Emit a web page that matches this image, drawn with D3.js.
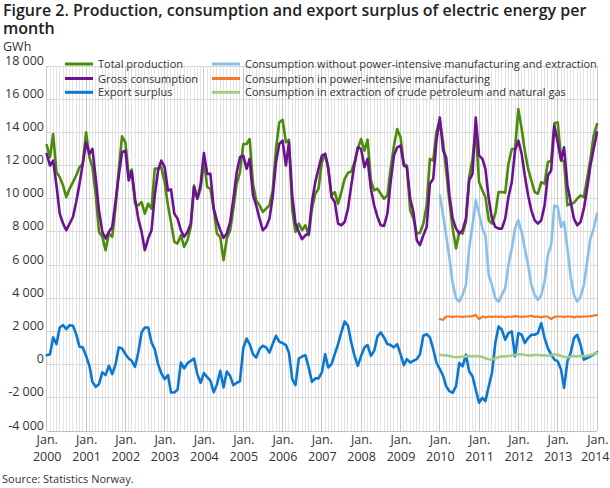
<!DOCTYPE html>
<html><head><meta charset="utf-8">
<script src="https://cdn.jsdelivr.net/npm/d3@7"></script>
<style>body{margin:0;background:#fff;} svg text{font-family:"Open Sans",sans-serif;}</style>
</head><body><svg id="c" width="610" height="488"></svg>
<script>
const startYear = 2000;
const yearLabels = ["2000","2001","2002","2003","2004","2005","2006","2007","2008","2009","2010","2011","2012","2013","2014"];
const yTicks = [-4000,-2000,0,2000,4000,6000,8000,10000,12000,14000,16000,18000];

const totalProduction = [
13240,12500,13900,11600,11300,10800,10100,10600,11000,11400,11900,12100,
14000,12500,11900,10200,8000,7700,6900,7900,7700,9400,11800,13760,
13400,11400,11760,9700,9600,9800,9100,9700,9400,11800,11840,11900,
11000,9600,8600,7400,7300,7800,7100,7500,8300,10800,10000,10600,
12300,10700,10600,9400,7900,7700,6300,7600,8100,9400,10900,11600,
13300,13300,13600,10900,9900,9600,9200,9400,9600,10500,13000,14600,
14760,13400,13560,9300,8000,8500,8100,8400,7800,9400,10300,10600,
12200,12700,11800,10200,10400,9700,10400,11200,11560,11640,12200,13000,
13600,12900,13560,11100,10500,10600,10300,10000,10200,11800,13200,14200,
13700,12100,12000,9300,8800,7900,7950,8500,9600,12400,12300,14040,
14700,13400,11700,9800,8200,7000,8000,7900,8600,11300,12400,14100,
11000,10500,10100,8700,8500,9100,10400,10400,10360,12100,13000,13000,
15400,14200,12900,11800,11100,10400,10300,11000,10900,12200,12300,14560,
14600,12400,12200,9600,9700,9760,10000,10200,10100,11200,12400,13800,
14500];

const grossConsumption = [
12700,12000,12300,10800,9100,8500,8100,8500,8900,9800,10900,12100,
13400,12700,13000,11200,9300,8000,7600,8000,8300,9800,11400,12800,
12900,11100,11640,10000,8800,8000,6900,7600,8100,10200,11700,12300,
11900,10500,10560,9100,8800,8100,7700,8000,8500,10700,10000,10840,
12760,11500,11500,9400,8700,8100,7640,7900,8600,10000,11600,12500,
12600,11800,12400,10200,9600,8800,8100,8300,8800,10100,12200,13300,
13500,12000,13400,10200,8500,8000,7560,7800,7900,9800,11000,11800,
12600,12700,11900,10100,9800,8500,8400,8600,9400,10800,12100,13100,
13000,11900,12400,10600,9600,8900,8400,8360,9100,11000,12600,13100,
13200,12000,11900,10000,9200,7500,7200,7800,8300,10900,11200,13500,
14900,12900,12500,10200,8800,8200,7900,8100,8800,11100,11500,14900,
12600,12400,11800,10000,8800,8300,8200,8200,8800,10100,11000,12900,
13500,12700,11400,10200,9300,8700,8500,8700,9600,11400,11700,14400,
13400,12300,13100,10800,9800,8800,8400,8600,9400,10600,12000,13000,
14000];

const exportSurplus = [
570,630,1640,1240,2240,2380,2140,2380,2340,1840,1080,1040,
530,-70,-1040,-1340,-1180,-470,-630,-70,-570,0,1040,980,
640,370,230,-130,730,1940,2240,2240,1340,930,30,-520,
-870,-630,-1680,-1680,-1520,130,-230,90,230,370,-570,-1100,
-510,-760,-960,-1660,-1190,-370,-1370,-420,-690,-1240,-1090,-1000,
1000,1570,1240,630,430,930,1140,1040,730,1240,1740,1380,
1300,1180,730,-870,-1240,370,490,570,-170,-1040,-830,-830,
-470,630,-170,30,630,1240,1940,2600,2340,1340,530,-70,
530,1040,1180,530,830,1700,1940,1640,1240,1180,1040,1240,
630,-30,330,130,230,330,630,1740,1840,1640,930,130,
-270,-670,-1300,-1600,-1700,-1300,100,-100,600,-400,-700,-1500,
-2300,-2000,-2200,-1300,-500,1300,2300,2100,1500,1900,2000,500,
1900,1800,1300,1600,1800,1800,1900,2500,1600,1000,600,300,
200,-300,-1400,200,700,1600,1800,1200,300,400,500,600,
750];

// series that start in January 2010
const newSeriesStart = 120;
const consWithoutPowerIntensive = [
10200,9000,7800,6400,4900,4000,3800,4200,4800,7000,8400,9900,
9100,8200,7800,5400,4800,4000,3800,4200,4600,6000,7000,8200,
8700,8000,7000,6000,4800,4200,3900,4200,5000,6600,7200,9600,
9500,8300,8600,7000,5300,4200,3800,4100,4800,6200,7600,8200,
9100];
const consPowerIntensive = [
2750,2700,2900,2900,2880,2900,2900,2880,2900,2900,2920,3000,
2750,2900,2850,2900,2880,2900,2880,2900,2850,2900,2880,2920,
2900,2880,2900,2900,2950,2880,2900,2850,2900,2900,2750,2880,
2900,2900,2880,2900,2900,2850,2900,2880,2900,2900,2920,2950,
3000];
const consExtraction = [
600,560,560,520,480,450,460,480,500,520,500,520,
500,460,380,330,300,380,450,500,500,520,550,580,
620,620,580,560,560,580,580,560,560,540,560,620,
600,520,470,450,470,520,500,520,520,540,580,640,
700];

const seriesNames = ["Total production","Gross consumption","Export surplus",
  "Consumption without power-intensive manufacturing and extraction",
  "Consumption in power-intensive manufacturing",
  "Consumption in extraction of crude petroleum and natural gas"];
const seriesColors = ["#4b8b0a","#6c1191","#0b78d0","#88c0ea","#f07a26","#a2cd86"];

const series = [
  {values: totalProduction, offset: 0},
  {values: grossConsumption, offset: 0},
  {values: exportSurplus, offset: 0},
  {values: consWithoutPowerIntensive, offset: newSeriesStart},
  {values: consPowerIntensive, offset: newSeriesStart},
  {values: consExtraction, offset: newSeriesStart}
];

const svg = d3.select("#c");
const months = d3.range(totalProduction.length).map(i => new Date(startYear, i, 1));
const x = d3.scaleTime().domain([months[0], months[months.length-1]]).range([46.7, 597]);
const y = d3.scaleLinear().domain([-4000, 18000]).range([431, 66]);

const locale = d3.formatLocale({decimal:".", thousands:" ", grouping:[3], currency:["",""], minus:"-"});
const fmt = locale.format(",");

// title
svg.append("text").attr("x",3).attr("y",16).attr("font-size",16).attr("font-weight",600).attr("fill","#222")
  .text("Figure 2. Production, consumption and export surplus of electric energy per");
svg.append("text").attr("x",3).attr("y",34).attr("font-size",16).attr("font-weight",600).attr("fill","#222").text("month");
svg.append("text").attr("x",3).attr("y",51).attr("font-size",12.5).attr("fill","#333").text("GWh");

// grid
const grid = svg.append("g");
grid.selectAll("line.m").data(months).join("line")
  .attr("x1", d => x(d)).attr("x2", d => x(d))
  .attr("y1", y(18000)).attr("y2", y(-4000))
  .attr("stroke", d => d.getMonth() === 0 ? "#c8c8c8" : "#e4e4e4")
  .attr("stroke-width", 1).attr("shape-rendering","crispEdges");
grid.selectAll("line.h").data(yTicks).join("line")
  .attr("x1", x(months[0])).attr("x2", x(months[months.length-1]))
  .attr("y1", d => y(d)).attr("y2", d => y(d))
  .attr("stroke", d => d === -4000 ? "#c0c0c0" : "#d9d9d9").attr("stroke-width", 1)
  .attr("shape-rendering","crispEdges");

// y axis labels
const ya = svg.append("g").attr("transform","translate(44,0)")
  .call(d3.axisLeft(y).tickValues(yTicks).tickSize(0).tickPadding(0).tickFormat(fmt));
ya.select(".domain").remove();
ya.selectAll("text").attr("dy", -2).attr("font-size", 12.5).attr("fill","#333")
  .attr("font-family","Open Sans, sans-serif");

// x axis labels
const yearDates = yearLabels.map(s => new Date(+s, 0, 1));
const xa = svg.append("g").attr("transform","translate(0,431)")
  .call(d3.axisBottom(x).tickValues(yearDates).tickSize(0).tickFormat(""));
xa.select(".domain").remove();
xa.selectAll(".tick text").each(function(d, i) {
  const last = i === yearLabels.length - 1;
  const t = d3.select(this).attr("y", 0).attr("dy", 0).attr("font-size", 12.5)
    .attr("fill","#333").attr("font-family","Open Sans, sans-serif")
    .attr("text-anchor", last ? "end" : "middle");
  const tx = last ? 12 : 0;
  t.append("tspan").attr("x", tx - (last ? 1 : 0)).attr("y", 13).text("Jan.");
  t.append("tspan").attr("x", tx).attr("y", 30).text(yearLabels[i]);
});

// lines
const line = d3.line().curve(d3.curveLinear);
const lg = svg.append("g");
series.forEach((s, k) => {
  lg.append("path")
    .datum(s.values.map((v, i) => [x(months[i + s.offset]), y(v)]))
    .attr("d", line)
    .attr("fill","none").attr("stroke", seriesColors[k])
    .attr("stroke-width", k === 4 ? 2.2 : 2.6)
    .attr("stroke-linejoin","round").attr("stroke-linecap","round");
});

// legend
const legPos = [[65,64],[65,78.5],[65,92.3],[212,64],[212,78.5],[212,92.3]];
const leg = svg.append("g");
seriesNames.forEach((n, k) => {
  const [lx, ly] = legPos[k];
  leg.append("line").attr("x1", lx).attr("x2", lx + 28).attr("y1", ly).attr("y2", ly)
    .attr("stroke", seriesColors[k]).attr("stroke-width", 3);
  leg.append("text").attr("x", lx + 33).attr("y", ly + 4).attr("font-size", 11)
    .attr("fill","#333").text(n);
});

// source
svg.append("text").attr("x",2).attr("y",483).attr("font-size",11).attr("fill","#333")
  .text("Source: Statistics Norway.");
</script></body></html>
